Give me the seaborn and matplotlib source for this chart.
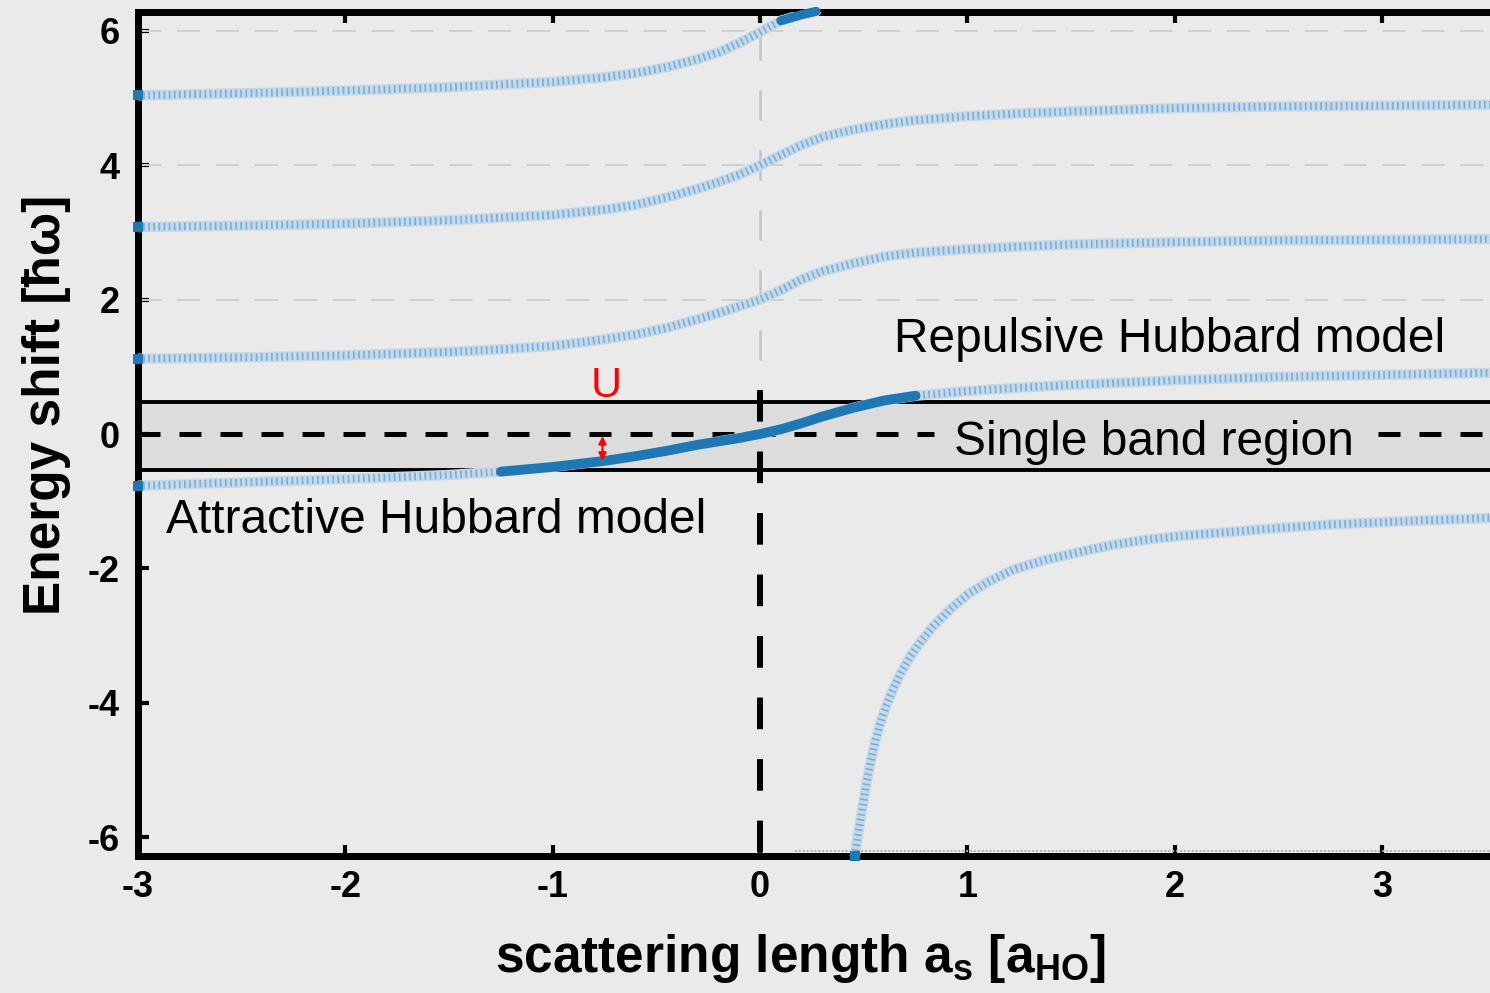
import matplotlib
matplotlib.use("Agg")
import matplotlib.pyplot as plt
import numpy as np
import pandas as pd
import seaborn as sns

# Two-particle levels in a harmonic trap vs. scattering length (units of a_HO)
a_grid = [-3.0, -2.5, -2.0, -1.5, -1.25, -1.0, -0.75, -0.6, -0.45, -0.3, -0.2, -0.1,
          0.0, 0.1, 0.2, 0.3, 0.45, 0.6, 0.75, 1.0, 1.25, 1.5, 2.0, 2.5, 3.0, 3.52]
level_0 = [-0.77, -0.72, -0.67, -0.61, -0.56, -0.49, -0.40, -0.33, -0.25, -0.16, -0.11, -0.06,
           0.0, 0.07, 0.16, 0.26, 0.39, 0.50, 0.57, 0.64, 0.69, 0.73, 0.80, 0.85, 0.88, 0.91]
level_2 = [1.12, 1.14, 1.17, 1.22, 1.26, 1.31, 1.41, 1.48, 1.58, 1.71, 1.80, 1.90,
           2.0, 2.14, 2.30, 2.42, 2.54, 2.64, 2.70, 2.75, 2.79, 2.82, 2.855, 2.88, 2.89, 2.90]
level_4 = [3.08, 3.10, 3.13, 3.18, 3.22, 3.26, 3.34, 3.41, 3.52, 3.65, 3.75, 3.86,
           4.0, 4.15, 4.30, 4.42, 4.53, 4.61, 4.67, 4.73, 4.77, 4.80, 4.85, 4.875, 4.885, 4.90]
a_top = [-3.0, -2.5, -2.0, -1.5, -1.25, -1.0, -0.75, -0.6, -0.45, -0.3, -0.2, -0.1,
         0.0, 0.1, 0.2, 0.27]
level_6 = [5.04, 5.07, 5.11, 5.16, 5.20, 5.24, 5.31, 5.37, 5.46, 5.58, 5.68, 5.82,
           5.98, 6.15, 6.24, 6.29]
a_bound = [0.457, 0.47, 0.49, 0.51, 0.533, 0.555, 0.576, 0.61, 0.641, 0.68, 0.727,
           0.78, 0.835, 0.92, 1.0, 1.1, 1.22, 1.38, 1.55, 1.7, 1.87, 2.05, 2.3, 2.5,
           2.73, 2.95, 3.16, 3.35, 3.52]
bound_state = [-6.28, -6.0, -5.63, -5.25, -4.88, -4.58, -4.34, -4.03, -3.80, -3.55,
               -3.30, -3.07, -2.86, -2.60, -2.39, -2.20, -2.02, -1.87, -1.75, -1.65,
               -1.57, -1.51, -1.45, -1.40, -1.35, -1.32, -1.29, -1.27, -1.25]

# single-band window around zero shift
band_low, band_high = -0.54, 0.477
# on-site interaction marker
u_pos = -0.76
u_from, u_to = -0.03, -0.40

x_ticks = [-3, -2, -1, 0, 1, 2, 3]
y_ticks = [-6, -4, -2, 0, 2, 4, 6]
x_lim = (-3.0, 3.52)
y_lim = (-6.28, 6.28)

BG = "#eaeaea"
BAND = "#dcdcdc"
BLUE = "#1f77b4"

sns.set_theme(style="white")
plt.rcParams["font.family"] = ["Liberation Sans", "DejaVu Sans"]
plt.rcParams["mathtext.fontset"] = "custom"
plt.rcParams["mathtext.rm"] = "Liberation Sans:bold"
plt.rcParams["mathtext.it"] = "Liberation Sans:italic:bold"
plt.rcParams["mathtext.bf"] = "Liberation Sans:bold"
plt.rcParams["axes.unicode_minus"] = False
for key in ("text.color", "axes.labelcolor", "xtick.color", "ytick.color"):
    plt.rcParams[key] = "black"

fig = plt.figure(figsize=(14.9, 9.93), dpi=100, facecolor=BG)
ax = fig.add_axes([138 / 1490, 137 / 993, 1352 / 1490, 844 / 993])
ax.set_facecolor(BG)

# long-form table of all levels
frames = []
for name, xs, ys in [("n0", a_grid, level_0), ("n2", a_grid, level_2),
                     ("n4", a_grid, level_4), ("n6", a_top, level_6),
                     ("bound", a_bound, bound_state)]:
    frames.append(pd.DataFrame({"a": xs, "E": ys, "branch": name}))
levels = pd.concat(frames, ignore_index=True)

# band of the lowest Bloch band
ax.axhspan(band_low, band_high, color=BAND, zorder=0.5, lw=0)
for yb in (band_low, band_high):
    ax.axhline(yb, color="black", lw=2.8, zorder=2)

# faint grid at the upper integer levels
for yg in (2, 4, 6):
    ax.axhline(yg, color="#d0d0d0", lw=1.4, ls=(0, (12, 8)), zorder=1)
ax.plot([0, 0], [1.1, y_lim[1]], color="#c4c4c4", lw=1.8, ls=(0, (12, 12)), zorder=1)
ax.plot([0.17, x_lim[1]], [-6.2, -6.2], color="#b0b0b0", lw=1.4, ls=(0, (1, 1)), zorder=1)

# reference lines at zero shift and zero scattering length
ax.plot([x_lim[0], 0.84], [0, 0], color="black", lw=3.6, ls=(0, (4.4, 3.8)), zorder=2)
ax.plot([2.98, x_lim[1]], [0, 0], color="black", lw=3.6, ls=(0, (4.4, 3.8)), zorder=2)
ax.plot([0, 0], [0.66, y_lim[0]], color="black", lw=4.3, ls=(0, (5.3, 5.0)), zorder=2)

# textured energy curves
sns.lineplot(data=levels, x="a", y="E", units="branch", estimator=None, sort=False,
             color="#c6d9e9", lw=7.5, legend=False, ax=ax, zorder=3)
sns.lineplot(data=levels, x="a", y="E", units="branch", estimator=None, sort=False,
             color="#7aaed8", lw=5.5, linestyle=(0, (0.22, 0.45)), legend=False,
             ax=ax, zorder=3.1)

# highlighted parts: ground level inside the band and top level at the edge
ground = levels[(levels.branch == "n0") & (levels.a >= -1.25) & (levels.a <= 0.75)]
sns.lineplot(data=ground, x="a", y="E", estimator=None, sort=False, color=BLUE,
             lw=7.0, legend=False, ax=ax, zorder=4)
top = levels[(levels.branch == "n6") & (levels.a >= 0.1)]
line = sns.lineplot(data=top, x="a", y="E", estimator=None, sort=False, color=BLUE,
                    lw=6.5, legend=False, ax=ax, zorder=4)
line.lines[-1].set_clip_on(False)

starts = levels.groupby("branch").first().reset_index()
ax.scatter(starts["a"], starts["E"], marker="s", s=45, color=BLUE, zorder=5,
           clip_on=False, lw=0)

# interaction energy marker
ax.annotate("", xy=(u_pos, u_to), xytext=(u_pos, u_from),
            arrowprops=dict(arrowstyle="<|-|>", color="red", lw=1.6,
                            mutation_scale=11, shrinkA=0, shrinkB=0), zorder=6)
ax.text(-0.74, 0.55, "U", color="red", fontsize=31, ha="center", va="baseline", zorder=6)

ax.text(0.647, 1.22, "Repulsive Hubbard model", fontsize=34.5, ha="left",
        va="baseline", zorder=6)
ax.text(0.937, -0.31, "Single band region", fontsize=34.5, ha="left",
        va="baseline", zorder=6)
ax.text(-2.865, -1.475, "Attractive Hubbard model", fontsize=34.5, ha="left",
        va="baseline", zorder=6)

ax.set_xlim(*x_lim)
ax.set_ylim(*y_lim)
ax.set_xticks(x_ticks)
ax.set_yticks(y_ticks)
ax.set_xticklabels([str(t) for t in x_ticks])
ax.set_yticklabels([str(t) for t in y_ticks])
ax.tick_params(direction="in", length=8, width=3, labelsize=26,
               top=True, bottom=True, left=True, right=False, color="black",
               labelcolor="black")
ax.tick_params(axis="y", pad=13)
ax.tick_params(axis="x", pad=10)
for lbl in ax.get_xticklabels() + ax.get_yticklabels():
    lbl.set_fontweight("bold")

for side in ("left", "bottom", "top"):
    ax.spines[side].set_color("black")
    ax.spines[side].set_linewidth(5)
ax.spines["right"].set_visible(False)

ax.set_xlabel(r"scattering length a$_{\mathrm{s}}$ [a$_{\mathrm{HO}}$]",
              fontsize=37, fontweight="bold")
ax.xaxis.set_label_coords(0.490, -0.1374)
ax.xaxis.label.set_va("baseline")
ax.set_ylabel("Energy shift [ħω]", fontsize=37, fontweight="bold")
ax.yaxis.set_label_coords(-0.068, (856 - 405) / 844)
ax.yaxis.label.set_va("center")

fig.savefig("out.png", dpi=100, facecolor=BG)
